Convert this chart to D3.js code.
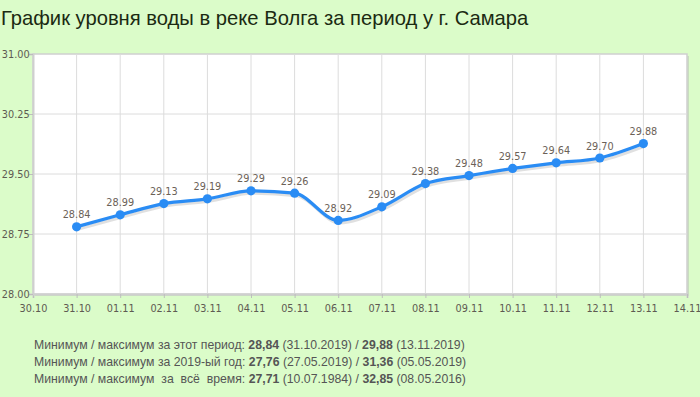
<!DOCTYPE html>
<html>
<head>
<meta charset="utf-8">
<script src="https://cdn.jsdelivr.net/npm/d3@7"></script>
<style>
	body { margin: 0; background: #dbfcc9; }
	svg { display: block; }
</style>
</head>
<body>
<svg id="chart" width="700" height="397"></svg>
<script>

var dates = ['31.10', '01.11', '02.11', '03.11', '04.11', '05.11', '06.11',
	'07.11', '08.11', '09.11', '10.11', '11.11', '12.11', '13.11'];
var levels = [28.84, 28.99, 29.13, 29.19, 29.29, 29.26, 28.92,
	29.09, 29.38, 29.48, 29.57, 29.64, 29.70, 29.88];
var xTicks = ['30.10', '31.10', '01.11', '02.11', '03.11', '04.11', '05.11', '06.11',
	'07.11', '08.11', '09.11', '10.11', '11.11', '12.11', '13.11', '14.11'];
var yTicks = [28.00, 28.75, 29.50, 30.25, 31.00];
var stats = [
	['Минимум / максимум за этот период: ', '28,84', ' (31.10.2019) / ', '29,88', ' (13.11.2019)'],
	['Минимум / максимум за 2019-ый год: ', '27,76', ' (27.05.2019) / ', '31,36', ' (05.05.2019)'],
	['Минимум / максимум \u00a0за \u00a0всё \u00a0время: ', '27,71', ' (10.07.1984) / ', '32,85', ' (08.05.2016)']
];

var svg = d3.select('#chart');
var pLeft = 33, pRight = 687, pTop = 54, pBottom = 294;

var x = d3.scalePoint().domain(xTicks).range([pLeft, pRight]);
var y = d3.scaleLinear().domain([28, 31]).range([pBottom, pTop]);

svg.append('text')
	.attr('x', 1).attr('y', 25)
	.style('font-family', 'Liberation Sans, Arial, sans-serif')
	.style('font-size', '20.2px')
	.style('fill', '#1b2a12')
	.text('График уровня воды в реке Волга за период у г. Самара');

// plot area with shadow on right/bottom
svg.append('rect')
	.attr('x', pLeft + 2).attr('y', pTop + 2)
	.attr('width', pRight - pLeft).attr('height', pBottom - pTop)
	.style('fill', '#c9dcc0');
svg.append('rect')
	.attr('x', pLeft).attr('y', pTop)
	.attr('width', pRight - pLeft).attr('height', pBottom - pTop)
	.style('fill', '#fff')
	.style('stroke', '#cfcfcf')
	.style('stroke-width', 1.5);

var grid = svg.append('g');
grid.selectAll('.vx').data(xTicks.slice(1, -1)).enter().append('line')
	.attr('x1', function(d) { return x(d); }).attr('x2', function(d) { return x(d); })
	.attr('y1', pTop).attr('y2', pBottom)
	.style('stroke', '#dcdcdc').style('stroke-width', 1);
grid.selectAll('.hy').data(yTicks.slice(1, -1)).enter().append('line')
	.attr('x1', pLeft).attr('x2', pRight)
	.attr('y1', function(d) { return y(d); }).attr('y2', function(d) { return y(d); })
	.style('stroke', '#dcdcdc').style('stroke-width', 1);

var xAxis = svg.append('g')
	.attr('transform', 'translate(0,' + pBottom + ')')
	.call(d3.axisBottom(x).tickSize(4).tickPadding(6));
var yAxis = svg.append('g')
	.attr('transform', 'translate(' + pLeft + ',0)')
	.call(d3.axisLeft(y).tickValues(yTicks).tickFormat(d3.format('.2f')).tickSize(4).tickPadding(1));

[xAxis, yAxis].forEach(function(ax) {
	ax.select('.domain').style('stroke', '#cfcfcf').style('stroke-width', 2);
	ax.selectAll('.tick line').style('stroke', '#bdbdbd');
	ax.selectAll('.tick text')
		.style('font-family', 'DejaVu Sans Condensed, sans-serif')
		.style('font-size', '10.8px')
		.style('fill', '#5e5a52');
});
yAxis.selectAll('.tick text').attr('dx', '0.15em');

var line = d3.line()
	.x(function(d, i) { return x(dates[i]); })
	.y(function(d) { return y(d); })
	.curve(d3.curveMonotoneX);

// shadow
svg.append('path')
	.datum(levels)
	.attr('transform', 'translate(1.5,2.5)')
	.attr('d', line)
	.style('fill', 'none')
	.style('stroke', 'rgba(0,0,0,0.12)')
	.style('stroke-width', 3);

svg.append('path')
	.datum(levels)
	.attr('d', line)
	.style('fill', 'none')
	.style('stroke', '#2a8cf4')
	.style('stroke-width', 3.2);

svg.selectAll('.dot').data(levels).enter().append('circle')
	.attr('cx', function(d, i) { return x(dates[i]); })
	.attr('cy', function(d) { return y(d); })
	.attr('r', 4.6)
	.style('fill', '#2a8cf4');

svg.selectAll('.lbl').data(levels).enter().append('text')
	.attr('x', function(d, i) { return x(dates[i]); })
	.attr('y', function(d) { return y(d) - 8.5; })
	.attr('text-anchor', 'middle')
	.style('font-family', 'DejaVu Sans Condensed, sans-serif')
	.style('font-size', '10.8px')
	.style('fill', '#6b6157')
	.text(function(d) { return d.toFixed(2); });

var foot = svg.selectAll('.stat').data(stats).enter().append('text')
	.attr('x', 34)
	.attr('y', function(d, i) { return 349 + i * 17; })
	.style('font-family', 'Liberation Sans, Arial, sans-serif')
	.style('font-size', '12.25px')
	.style('fill', '#555');
foot.selectAll('tspan').data(function(d) { return d; }).enter().append('tspan')
	.style('font-weight', function(d, i) { return i % 2 ? 'bold' : 'normal'; })
	.text(function(d) { return d; });

</script>
</body>
</html>
